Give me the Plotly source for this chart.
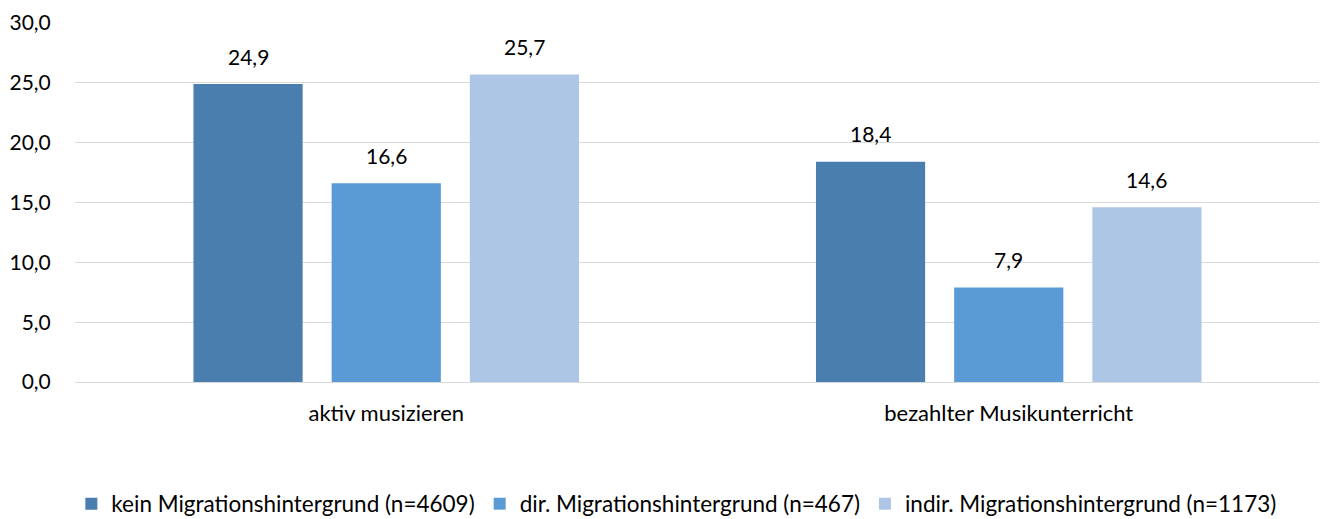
import plotly.graph_objects as go

categories = ["aktiv musizieren", "bezahlter Musikunterricht"]
series_names = [
    "kein Migrationshintergrund (n=4609)",
    "dir. Migrationshintergrund (n=467)",
    "indir. Migrationshintergrund (n=1173)",
]
series_values = [
    [24.9, 18.4],
    [16.6, 7.9],
    [25.7, 14.6],
]
colors = ["#4A7EAF", "#5B9BD5", "#ADC6E5"]
y_ticks = [0, 5, 10, 15, 20, 25, 30]

FONT = "Lato"
fig = go.Figure()
for name, vals, col in zip(series_names, series_values, colors):
    fig.add_trace(go.Bar(x=categories, y=vals, name=name, marker_color=col,
                         marker_line_width=0))

slot_px = 138
for j, vals in enumerate(series_values):
    for cat, v in zip(categories, vals):
        fig.add_annotation(x=cat, y=v, text=f"{v:.1f}".replace(".", ","),
                           showarrow=False, xshift=(j - 1) * slot_px, yshift=28,
                           yanchor="middle", font=dict(family=FONT, size=21, color="#000"))

# page body has an 8px default margin; compensate in figure size/margins
fig.update_layout(
    width=1319, height=511,
    margin=dict(l=67, r=7, t=15, b=137, autoexpand=False),
    paper_bgcolor="white", plot_bgcolor="white",
    barmode="group", bargap=0.334, bargroupgap=0.21,
    separators=",.",
    font=dict(family=FONT, size=22, color="#000"),
    legend=dict(orientation="h", x=0.483, xanchor="center", y=-0.34, yanchor="middle",
                font=dict(family=FONT, size=22.5), traceorder="normal"),
    showlegend=True,
)
fig.update_yaxes(range=[0, 30], tickvals=y_ticks, tickformat=".1f",
                 gridcolor="#D9D9D9", gridwidth=1, zeroline=False, automargin=False,
                 showline=False, ticks="outside", ticklen=19, tickcolor="rgba(0,0,0,0)",
                 tickfont=dict(family=FONT, size=21))
fig.update_xaxes(showline=True, linecolor="#D9D9D9", linewidth=1, automargin=False,
                 ticks="outside", ticklen=12, tickcolor="rgba(0,0,0,0)",
                 tickfont=dict(family=FONT, size=22))
fig.write_html("out.html")
